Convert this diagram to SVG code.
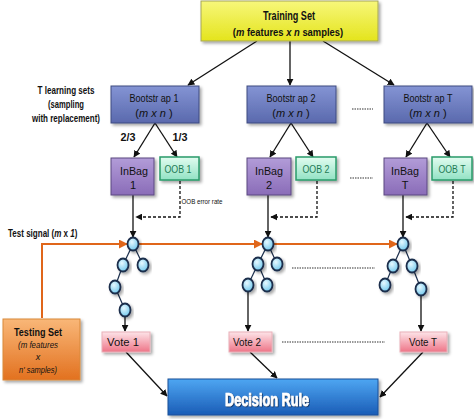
<svg xmlns="http://www.w3.org/2000/svg" width="474" height="419" viewBox="0 0 474 419">
<defs>
<linearGradient id="gY" x1="0" y1="0" x2="0" y2="1"><stop offset="0" stop-color="#f7f77a"/><stop offset="1" stop-color="#e4e41c"/></linearGradient>
<linearGradient id="gB" x1="0" y1="0" x2="0" y2="1"><stop offset="0" stop-color="#8494d4"/><stop offset="1" stop-color="#5a69ad"/></linearGradient>
<linearGradient id="gP" x1="0" y1="0" x2="0" y2="1"><stop offset="0" stop-color="#b29cd8"/><stop offset="1" stop-color="#8a6cb8"/></linearGradient>
<linearGradient id="gG" x1="0" y1="0" x2="0" y2="1"><stop offset="0" stop-color="#e2fcf0"/><stop offset="1" stop-color="#92e2c4"/></linearGradient>
<linearGradient id="gR" x1="0" y1="0" x2="0" y2="1"><stop offset="0" stop-color="#fde4e8"/><stop offset="1" stop-color="#ee7487"/></linearGradient>
<linearGradient id="gD" x1="0" y1="0" x2="0" y2="1"><stop offset="0" stop-color="#4ea6f2"/><stop offset="1" stop-color="#1a5cb6"/></linearGradient>
<linearGradient id="gO" x1="0" y1="0" x2="0" y2="1"><stop offset="0" stop-color="#f9b778"/><stop offset="1" stop-color="#e2711f"/></linearGradient>
<radialGradient id="gN" cx="0.4" cy="0.35" r="0.7"><stop offset="0" stop-color="#e6f8ff"/><stop offset="1" stop-color="#6cc6ec"/></radialGradient>
<filter id="sh" x="-20%" y="-20%" width="150%" height="160%"><feDropShadow dx="2" dy="2" stdDeviation="1.5" flood-color="#000" flood-opacity="0.35"/></filter>
<filter id="tsh" x="-10%" y="-30%" width="120%" height="160%"><feDropShadow dx="0.8" dy="0.8" stdDeviation="0.6" flood-color="#0a2550" flood-opacity="0.9"/></filter>
<marker id="ab" viewBox="0 0 10 10" refX="9" refY="5" markerWidth="7" markerHeight="7" markerUnits="userSpaceOnUse" orient="auto"><path d="M0,0 L10,5 L0,10 z" fill="#111"/></marker>
<marker id="ao" viewBox="0 0 10 10" refX="9" refY="5" markerWidth="9" markerHeight="9" markerUnits="userSpaceOnUse" orient="auto"><path d="M0,0 L10,5 L0,10 z" fill="#e0661a"/></marker>
</defs>
<style>
text{font-family:"Liberation Sans Narrow","Liberation Sans",Arial,sans-serif;text-anchor:middle;fill:#111}
.b{font-weight:bold}
.i{font-style:italic}
.ln{stroke:#111;stroke-width:1.3;fill:none}
.ds{stroke:#111;stroke-width:1.3;fill:none;stroke-dasharray:3 2}
.dot{stroke:#333;stroke-width:1.2;stroke-dasharray:1.5 1;fill:none}
.or{stroke:#e0661a;stroke-width:2;fill:none}
.tn{fill:url(#gN);stroke:#1b2e4c;stroke-width:1.8;filter:url(#sh)}
.te{stroke:#1b2e4c;stroke-width:1.2;fill:none}
.og{fill:#1f7a55}
</style>

<g id="labels">
<text x="66" y="94" font-size="11" class="b" textLength="57" lengthAdjust="spacingAndGlyphs">T learning sets</text>
<text x="66" y="108" font-size="11" class="b" textLength="36" lengthAdjust="spacingAndGlyphs">(sampling</text>
<text x="66" y="122" font-size="11" class="b" textLength="68" lengthAdjust="spacingAndGlyphs">with replacement)</text>
<text x="128" y="141" font-size="11" class="b" textLength="15" lengthAdjust="spacingAndGlyphs">2/3</text>
<text x="180" y="141" font-size="11" class="b" textLength="15" lengthAdjust="spacingAndGlyphs">1/3</text>
<text transform="translate(8,237) scale(0.73,1)" x="0" y="0" font-size="11" class="b" style="text-anchor:start;font-family:'Liberation Sans',Arial,sans-serif">Test signal (<tspan class="i">m</tspan> x <tspan class="i">1</tspan>)</text>
<text x="202" y="204" font-size="6.5" textLength="41" lengthAdjust="spacingAndGlyphs">OOB error rate</text>
</g>

<g id="connectors">
<line class="ln" x1="257" y1="41" x2="188" y2="85" marker-end="url(#ab)"/>
<line class="ln" x1="290" y1="41" x2="290" y2="85" marker-end="url(#ab)"/>
<line class="ln" x1="323" y1="41" x2="394" y2="85" marker-end="url(#ab)"/>
<line class="ln" x1="155" y1="123" x2="134" y2="157" marker-end="url(#ab)"/>
<line class="ln" x1="155" y1="123" x2="177" y2="157" marker-end="url(#ab)"/>
<line class="ln" x1="291" y1="123" x2="270" y2="157" marker-end="url(#ab)"/>
<line class="ln" x1="291" y1="123" x2="313" y2="157" marker-end="url(#ab)"/>
<line class="ln" x1="427" y1="123" x2="406" y2="157" marker-end="url(#ab)"/>
<line class="ln" x1="427" y1="123" x2="450" y2="157" marker-end="url(#ab)"/>
<line class="ln" x1="133" y1="195" x2="133" y2="237" marker-end="url(#ab)"/>
<line class="ln" x1="268" y1="195" x2="268" y2="237" marker-end="url(#ab)"/>
<line class="ln" x1="403" y1="195" x2="403" y2="237" marker-end="url(#ab)"/>
<polyline class="ds" points="180,181 180,217 136,217" marker-end="url(#ab)"/>
<polyline class="ds" points="317,181 317,217 271,217" marker-end="url(#ab)"/>
<polyline class="ds" points="453,181 453,217 406,217" marker-end="url(#ab)"/>
<polyline class="or" points="42,318 42,244 127,244" marker-end="url(#ao)"/>
<line class="or" x1="139" y1="244" x2="262" y2="244" marker-end="url(#ao)"/>
<line class="or" x1="274" y1="244" x2="397" y2="244" marker-end="url(#ao)"/>
<line class="ln" x1="125" y1="316" x2="125" y2="331" marker-end="url(#ab)"/>
<line class="ln" x1="248" y1="291" x2="248" y2="331" marker-end="url(#ab)"/>
<line class="ln" x1="421" y1="295" x2="421" y2="331" marker-end="url(#ab)"/>
<line class="ln" x1="126" y1="352" x2="167" y2="396" marker-end="url(#ab)"/>
<line class="ln" x1="250" y1="352" x2="277" y2="378" marker-end="url(#ab)"/>
<line class="ln" x1="423" y1="352" x2="380" y2="397" marker-end="url(#ab)"/>
<line class="dot" x1="352" y1="109" x2="373" y2="109"/>
<line class="dot" x1="350" y1="178" x2="373" y2="178"/>
<line class="dot" x1="292" y1="268" x2="375" y2="268"/>
<line class="dot" x1="282" y1="342" x2="385" y2="342"/>
</g>

<g id="training">
<rect x="201" y="1" width="177" height="40" fill="url(#gY)" stroke="#a5a55a" filter="url(#sh)"/>
<text x="289" y="20" font-size="12" class="b" textLength="52" lengthAdjust="spacingAndGlyphs">Training Set</text>
<text transform="translate(288,36) scale(0.82,1)" x="0" y="0" font-size="11.5" class="b">(<tspan class="i">m</tspan> features   <tspan class="i">x n</tspan> samples)</text>
</g>

<g id="bootstrap1">
<rect x="111" y="86" width="88" height="37" fill="url(#gB)" stroke="#3e4a80" filter="url(#sh)"/>
<text x="154" y="102" font-size="11" textLength="49" lengthAdjust="spacingAndGlyphs">Bootstr ap 1</text>
<text x="154" y="117" font-size="11">(<tspan class="i">m x n</tspan> )</text>
</g>
<g id="bootstrap2">
<rect x="247" y="86" width="89" height="37" fill="url(#gB)" stroke="#3e4a80" filter="url(#sh)"/>
<text x="291" y="102" font-size="11" textLength="49" lengthAdjust="spacingAndGlyphs">Bootstr ap 2</text>
<text x="291" y="117" font-size="11">(<tspan class="i">m x n</tspan> )</text>
</g>
<g id="bootstrapT">
<rect x="384" y="86" width="88" height="37" fill="url(#gB)" stroke="#3e4a80" filter="url(#sh)"/>
<text x="428" y="102" font-size="11" textLength="49" lengthAdjust="spacingAndGlyphs">Bootstr ap T</text>
<text x="428" y="117" font-size="11">(<tspan class="i">m x n</tspan> )</text>
</g>

<g id="inbag1">
<rect x="111" y="158" width="43" height="37" fill="url(#gP)" stroke="#5b4880" filter="url(#sh)"/>
<text x="134" y="175" font-size="11" textLength="28" lengthAdjust="spacingAndGlyphs">InBag</text>
<text x="133" y="189" font-size="11">1</text>
</g>
<g id="oob1">
<rect x="160" y="157" width="39" height="23" fill="url(#gG)" stroke="#2a9a6a" stroke-width="1.5" filter="url(#sh)"/>
<text x="178" y="173" font-size="11" class="og" textLength="27" lengthAdjust="spacingAndGlyphs">OOB 1</text>
</g>
<g id="inbag2">
<rect x="247" y="158" width="44" height="37" fill="url(#gP)" stroke="#5b4880" filter="url(#sh)"/>
<text x="269" y="175" font-size="11" textLength="28" lengthAdjust="spacingAndGlyphs">InBag</text>
<text x="269" y="189" font-size="11">2</text>
</g>
<g id="oob2">
<rect x="296" y="157" width="40" height="23" fill="url(#gG)" stroke="#2a9a6a" stroke-width="1.5" filter="url(#sh)"/>
<text x="316" y="173" font-size="11" class="og" textLength="27" lengthAdjust="spacingAndGlyphs">OOB 2</text>
</g>
<g id="inbagT">
<rect x="384" y="158" width="43" height="37" fill="url(#gP)" stroke="#5b4880" filter="url(#sh)"/>
<text x="405" y="175" font-size="11" textLength="28" lengthAdjust="spacingAndGlyphs">InBag</text>
<text x="405" y="189" font-size="11">T</text>
</g>
<g id="oobT">
<rect x="432" y="157" width="40" height="23" fill="url(#gG)" stroke="#2a9a6a" stroke-width="1.5" filter="url(#sh)"/>
<text x="452" y="173" font-size="11" class="og" textLength="27" lengthAdjust="spacingAndGlyphs">OOB T</text>
</g>

<g id="tree1">
<line class="te" x1="133" y1="244" x2="123" y2="265"/>
<line class="te" x1="133" y1="244" x2="143" y2="265"/>
<line class="te" x1="123" y1="265" x2="115" y2="287"/>
<line class="te" x1="115" y1="287" x2="125" y2="310"/>
<ellipse class="tn" cx="133" cy="244" rx="5.5" ry="6.5"/>
<ellipse class="tn" cx="123" cy="265" rx="5.5" ry="6.5"/>
<ellipse class="tn" cx="143" cy="265" rx="5.5" ry="6.5"/>
<ellipse class="tn" cx="115" cy="287" rx="5.5" ry="6.5"/>
<ellipse class="tn" cx="125" cy="310" rx="5.5" ry="6.5"/>
</g>
<g id="tree2">
<line class="te" x1="268" y1="244" x2="258" y2="264"/>
<line class="te" x1="268" y1="244" x2="277" y2="264"/>
<line class="te" x1="258" y1="264" x2="248" y2="285"/>
<line class="te" x1="258" y1="264" x2="267" y2="285"/>
<ellipse class="tn" cx="268" cy="244" rx="5.5" ry="6.5"/>
<ellipse class="tn" cx="258" cy="264" rx="5.5" ry="6.5"/>
<ellipse class="tn" cx="277" cy="264" rx="5.5" ry="6.5"/>
<ellipse class="tn" cx="248" cy="285" rx="5.5" ry="6.5"/>
<ellipse class="tn" cx="267" cy="285" rx="5.5" ry="6.5"/>
</g>
<g id="treeT">
<line class="te" x1="403" y1="244" x2="393" y2="266"/>
<line class="te" x1="403" y1="244" x2="412" y2="266"/>
<line class="te" x1="393" y1="266" x2="385" y2="285"/>
<line class="te" x1="412" y1="266" x2="421" y2="289"/>
<ellipse class="tn" cx="403" cy="244" rx="5.5" ry="6.5"/>
<ellipse class="tn" cx="393" cy="266" rx="5.5" ry="6.5"/>
<ellipse class="tn" cx="412" cy="266" rx="5.5" ry="6.5"/>
<ellipse class="tn" cx="385" cy="285" rx="5.5" ry="6.5"/>
<ellipse class="tn" cx="421" cy="289" rx="5.5" ry="6.5"/>
</g>

<g id="vote1">
<rect x="102" y="332" width="48" height="20" fill="url(#gR)" stroke="#e9b0b8" filter="url(#sh)"/>
<text x="123" y="346" font-size="11" textLength="32" lengthAdjust="spacingAndGlyphs">Vote  1</text>
</g>
<g id="vote2">
<rect x="229" y="332" width="43" height="20" fill="url(#gR)" stroke="#e9b0b8" filter="url(#sh)"/>
<text x="247" y="346" font-size="11" textLength="28" lengthAdjust="spacingAndGlyphs">Vote  2</text>
</g>
<g id="voteT">
<rect x="400" y="332" width="47" height="20" fill="url(#gR)" stroke="#e9b0b8" filter="url(#sh)"/>
<text x="423" y="346" font-size="11" textLength="28" lengthAdjust="spacingAndGlyphs">Vote  T</text>
</g>

<g id="testing">
<rect x="3" y="319" width="77" height="61" fill="url(#gO)" stroke="#d9893a" filter="url(#sh)"/>
<text x="38" y="336" font-size="11" class="b" textLength="48" lengthAdjust="spacingAndGlyphs">Testing Set</text>
<text x="38" y="348" font-size="9" class="i" textLength="40" lengthAdjust="spacingAndGlyphs">(m features</text>
<text x="38" y="360" font-size="9" class="i">x</text>
<text x="38" y="373" font-size="9" class="i" textLength="38" lengthAdjust="spacingAndGlyphs">n' samples)</text>
</g>

<g id="decision">
<rect x="168" y="379" width="210" height="36" fill="url(#gD)" stroke="#1a4f98" filter="url(#sh)"/>
<text x="267" y="406" font-size="18" font-weight="bold" style="fill:#fff;font-family:'Liberation Sans',Arial,sans-serif" stroke="#fff" stroke-width="0.7" filter="url(#tsh)" textLength="84" lengthAdjust="spacingAndGlyphs">Decision Rule</text>
</g>
</svg>
